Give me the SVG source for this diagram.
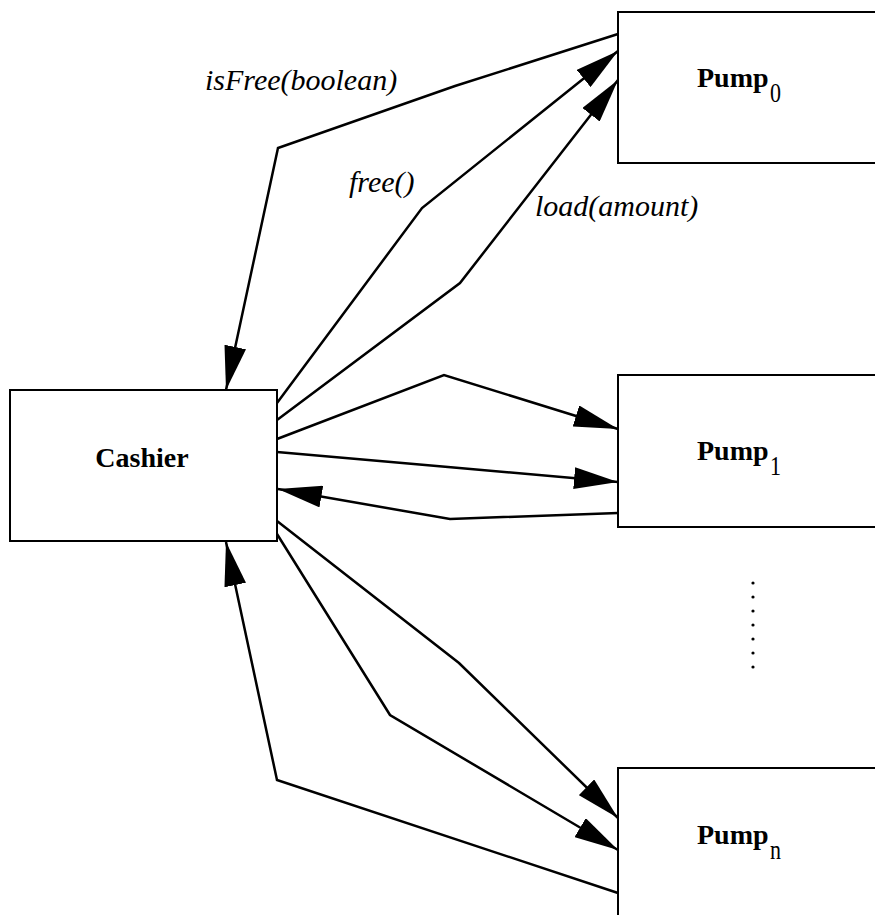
<svg xmlns="http://www.w3.org/2000/svg" width="875" height="915" viewBox="0 0 875 915">
<style>
.box{fill:#fff;stroke:#000;stroke-width:2}
.name{font-family:"Liberation Serif","Times New Roman",serif;font-weight:bold;font-size:28px;fill:#000}
.sub{font-family:"Liberation Serif","Times New Roman",serif;font-size:22px;fill:#000}
.lbl{font-family:"Liberation Serif","Times New Roman",serif;font-style:italic;font-size:30px;fill:#000}
.conn{fill:none;stroke:#000;stroke-width:2.5;stroke-linejoin:miter;marker-end:url(#ah)}
</style>
<defs>
<marker id="ah" markerUnits="userSpaceOnUse" viewBox="0 0 44 22" markerWidth="44" markerHeight="22" refX="44" refY="11" orient="auto">
<path d="M0,0 L44,11 L0,22 z" fill="#000"/>
</marker>
</defs>
<rect width="875" height="915" fill="#fff"/>
<g id="pump0">
<rect class="box" x="618" y="12" width="300" height="151"/>
<text class="name" x="697" y="87">Pump</text>
<text class="sub" transform="translate(770,102) scale(1,1.2)">0</text>
</g>
<g id="pump1">
<rect class="box" x="618" y="375" width="300" height="152"/>
<text class="name" x="697" y="460">Pump</text>
<text class="sub" transform="translate(770,475) scale(1,1.2)">1</text>
</g>
<g id="pumpn">
<rect class="box" x="618" y="768" width="300" height="200"/>
<text class="name" x="697" y="844">Pump</text>
<text class="sub" transform="translate(770,859) scale(1,1.2)">n</text>
</g>
<g id="cashier">
<rect class="box" x="10" y="390" width="267" height="151"/>
<text class="name" x="142" y="467" text-anchor="middle">Cashier</text>
</g>
<g id="dots" fill="#000">
<circle cx="753" cy="583" r="1.6"/>
<circle cx="753" cy="597" r="1.6"/>
<circle cx="753" cy="611" r="1.6"/>
<circle cx="753" cy="625" r="1.6"/>
<circle cx="753" cy="639" r="1.6"/>
<circle cx="753" cy="653" r="1.6"/>
<circle cx="753" cy="667" r="1.6"/>
</g>
<g id="connectors">
<path class="conn" d="M618,34 L455,86 L278,148 L226,390"/>
<path class="conn" d="M277,403 L422,208 L618,51"/>
<path class="conn" d="M277,420 L460,283 L618,80"/>
<path class="conn" d="M277,439 L444,375 L618,429"/>
<path class="conn" d="M277,452 L448,467 L618,482"/>
<path class="conn" d="M618,513 L450,519 L278,489"/>
<path class="conn" d="M277,521 L459,663 L618,818"/>
<path class="conn" d="M277,534 L390,715 L618,850"/>
<path class="conn" d="M618,893 L277,780 L226,542"/>
</g>
<g id="labels">
<text class="lbl" x="205" y="90">isFree(boolean)</text>
<text class="lbl" x="349" y="192">free()</text>
<text class="lbl" x="535" y="216">load(amount)</text>
</g>
</svg>
